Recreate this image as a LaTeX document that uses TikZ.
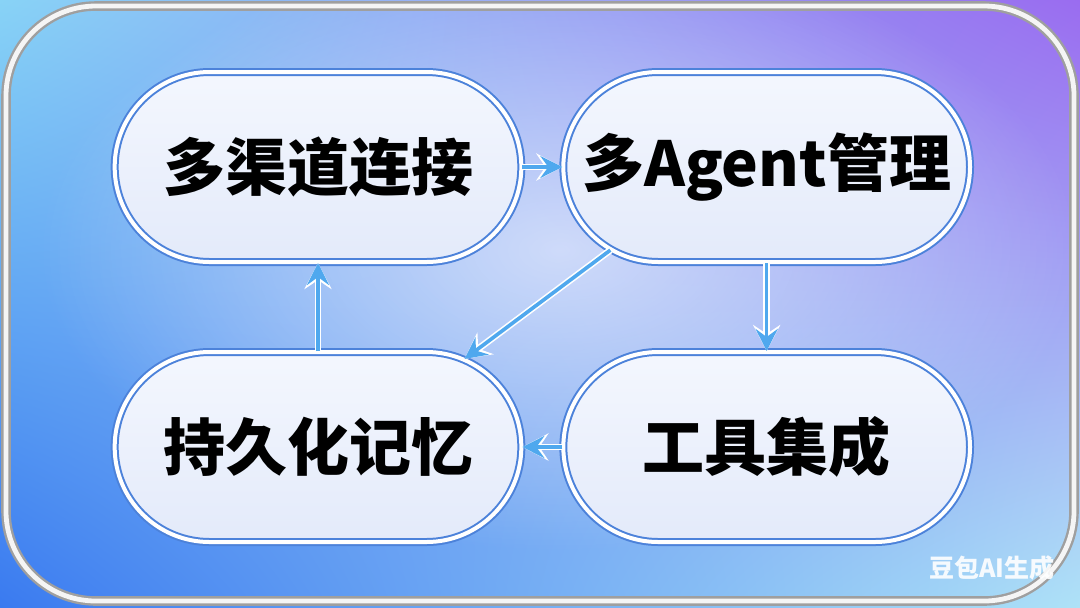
\documentclass[tikz,border=0pt]{standalone}
\usepackage{fontspec}
\newfontfamily\cjk{Noto Sans CJK SC}
\usetikzlibrary{positioning,shapes.misc,arrows.meta,fadings,shadings}

\definecolor{bgtl}{HTML}{88D3F6}
\definecolor{bgtr}{HTML}{9A6CF0}
\definecolor{bgbl}{HTML}{3A7AF0}
\definecolor{bgbr}{HTML}{AEE2F7}
\definecolor{pillblue}{HTML}{4C82DA}
\definecolor{pilltop}{HTML}{F4F7FE}
\definecolor{pillbottom}{HTML}{E3EAFA}
\definecolor{arrowblue}{HTML}{4FA8EE}

\tikzfading[name=softglow, inner color=transparent!0, outer color=transparent!100]

\begin{document}
\begin{tikzpicture}[x=0.5pt, y=-0.5pt, node distance=20pt,
    pill/.style={rounded rectangle, minimum width=210pt, minimum height=95pt,
        draw=pillblue, line width=1pt, double=white, double distance=2pt,
        top color=pilltop, bottom color=pillbottom,
        font=\cjk\bfseries\fontsize{31}{37}\selectfont},
    flow/.style={draw=arrowblue, line width=1.8pt,
        -{Stealth[length=11pt,width=11pt,inset=4pt]},
        preaction={draw=white, line width=3.4pt,
            -{Stealth[length=13pt,width=13.5pt,inset=4.5pt]}}}]
    \useasboundingbox (0,0) rectangle (1080,607);
    % background
    \shade[upper left=bgtl, upper right=bgtr, lower left=bgbl, lower right=bgbr]
        (0,0) rectangle (1080,607);
    \fill[white, path fading=softglow, opacity=0.6] (560,250) ellipse (520 and 300);
    \draw[draw=gray!75, line width=1.2pt, double=gray!8, double distance=2.4pt,
        rounded corners=45pt] (6,6) rectangle (1074,601);

    % steps
    \node[pill] (tl) at (318,167) {多渠道连接};
    \node[pill, right=of tl] (tr) {多Agent管理};
    \node[pill, below=44pt of tl] (bl) {持久化记忆};
    \node[pill, right=of bl] (br) {工具集成};

    \draw[flow] (tl.east) -- (tr.west);
    \draw[flow] (tr.208) -- (bl.31);
    \draw[flow] (tr.south) -- (br.north);
    \draw[flow] (br.west) -- (bl.east);
    \draw[flow] (bl.north) -- (tl.south);

    \node[text=white, opacity=0.9, font=\cjk\bfseries\fontsize{12.5}{14}\selectfont]
        (mark) at (992,568) {豆包AI生成};
\end{tikzpicture}
\end{document}
